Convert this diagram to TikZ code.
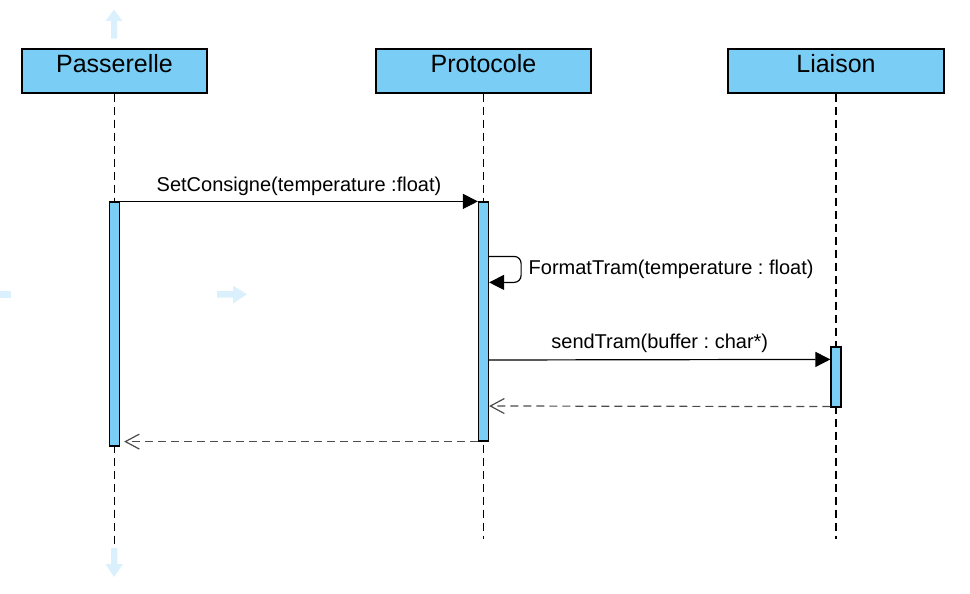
\documentclass[tikz,border=0pt]{standalone}
\usepackage{fontspec}
\setmainfont{Liberation Sans}
\usepackage{xcolor}
\usetikzlibrary{arrows.meta,positioning,calc}
\definecolor{actblue}{RGB}{122,206,245}
\definecolor{hintblue}{RGB}{218,240,252}
\frenchspacing

\begin{document}
\begin{tikzpicture}[x=1pt,y=-1pt,line width=1.2pt,
                    head node/.style={rectangle,draw,fill=actblue,minimum height=44pt,inner sep=0pt,font=\fontsize{25}{30}\selectfont,text height=18pt,text depth=14.6pt},
                    act node/.style={rectangle,draw,fill=actblue,minimum width=10pt,inner sep=0pt},
                    life line/.style={dash pattern=on 8pt off 5pt},
                    msg/.style={-{Triangle[length=15pt,width=15pt]}},
                    ret/.style={black!70,dash pattern=on 8pt off 5pt,-{Straight Barb[length=14pt,width=15pt,line width=1.2pt]}},
                    msg label/.style={inner sep=0pt,font=\fontsize{20}{24}\selectfont}]

  \useasboundingbox (0,0) rectangle (970,594);

  % faint hint arrows
  \fill[hintblue] (111,38.7) -- (111,21) -- (105.5,21) -- (114,9.5) -- (122.5,21) -- (117,21) -- (117,38.7) -- cycle;
  \fill[hintblue] (217,291) -- (233,291) -- (233,285.7) -- (247,294.3) -- (233,303.5) -- (233,297.7) -- (217,297.7) -- cycle;
  \fill[hintblue] (0,291) rectangle (11,297.7);
  \fill[hintblue] (111,548) -- (117.3,548) -- (117.3,564) -- (123,564) -- (114,577) -- (105.5,564) -- (111,564) -- cycle;

  % heads
  \node[head node,minimum width=185pt] (pass) at (114.5,71) {Passerelle};
  \node[head node,minimum width=215pt] (proto) at (483.5,71) {Protocole};
  \node[head node,minimum width=216pt] (liai) at (836,71) {Liaison};

  \coordinate (passEnd) at (114.5,545);
  \coordinate (protoEnd) at (483.5,539);
  \coordinate (liaiEnd) at (836,539);

  \draw[life line] (pass.south) -- (passEnd);
  \draw[life line] (proto.south) -- (protoEnd);
  \draw[life line] (liai.south) -- (liaiEnd);

  % activations
  \node[act node,minimum height=244pt] (passAct) at (114.5,324) {};
  \node[act node,minimum height=239pt] (protoAct) at (483.5,321.5) {};
  \node[act node,minimum height=60pt] (liaiAct) at (836,377) {};

  % messages
  \draw[msg] (passAct.north east) -- (protoAct.north west)
    node[msg label,midway,yshift=15pt] {SetConsigne(temperature :float)};

  \draw[msg,rounded corners=7pt] ([yshift=-55pt]protoAct.north east) -- ++(32,0) -- ++(0,26)
    node[msg label,midway,anchor=west,xshift=7pt] {FormatTram(temperature : float)} -- ++(-32,0);

  \draw[msg] (protoAct.east |- 0,360) -- ([yshift=-13pt]liaiAct.north west)
    node[msg label,midway,yshift=16pt] {sendTram(buffer : char*)};

  \draw[ret] ([yshift=1pt]liaiAct.south west) -- (protoAct.east |- 0,406);
  \draw[ret,shorten >=4pt] (protoAct.south west) -- (passAct.east |- protoAct.south);

\end{tikzpicture}
\end{document}
